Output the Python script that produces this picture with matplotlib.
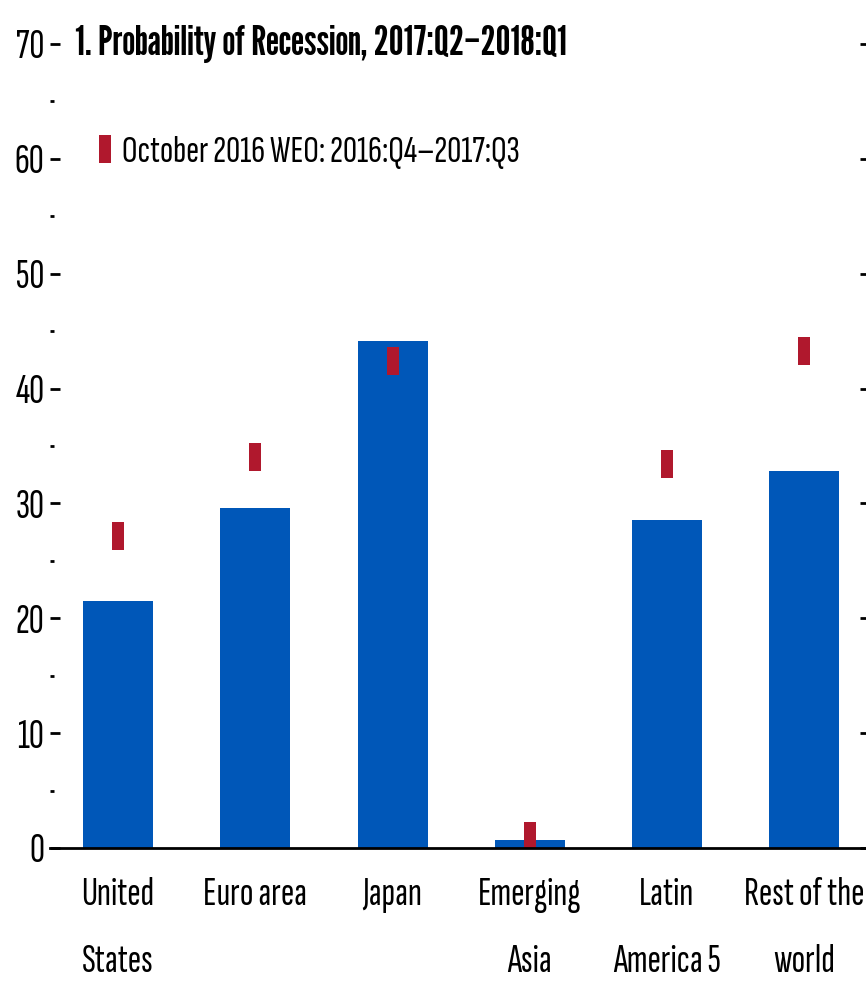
import matplotlib
matplotlib.use("Agg")
import matplotlib.pyplot as plt
from matplotlib.ticker import MultipleLocator

# data
regions = ["United\nStates", "Euro area", "Japan", "Emerging\nAsia", "Latin\nAmerica 5", "Rest of the\nworld"]
prob_now = [21.5, 29.6, 44.1, 0.7, 28.6, 32.8]
prob_oct2016 = [27.2, 34.0, 42.4, 1.05, 33.4, 43.3]

title = "1. Probability of Recession, 2017:Q2\u20132018:Q1"
legend_label = "October 2016 WEO: 2016:Q4\u20132017:Q3"

BLUE = "#0057b8"
RED = "#b0182d"
REG = "Sofia Sans Extra Condensed"
BOLD = "League Gothic"

plt.rcParams["font.family"] = [REG, "DejaVu Sans"]

fig = plt.figure(figsize=(8.66, 9.89), dpi=100)
ax = fig.add_axes([50 / 866, 141 / 989, 816 / 866, 804 / 989])

x = list(range(len(regions)))
ax.bar(x, prob_now, width=0.51, color=BLUE, zorder=2)

# tall thin rectangle marker
rect = [(-0.46, -1), (0.46, -1), (0.46, 1), (-0.46, 1), (-0.46, -1)]
ax.plot(x, prob_oct2016, linestyle="none", marker=rect, markersize=20,
        markeredgewidth=0, color=RED, zorder=3, label=legend_label)

ax.set_xlim(-0.496, 5.45)
ax.set_ylim(0, 70)

for s in ["left", "right", "top"]:
    ax.spines[s].set_visible(False)
ax.spines["bottom"].set_linewidth(2)
ax.spines["bottom"].set_zorder(4)

ax.yaxis.set_major_locator(MultipleLocator(10))
ax.yaxis.set_minor_locator(MultipleLocator(5))
ax.tick_params(axis="y", which="major", direction="in", length=7.5, width=2,
               labelsize=30, pad=4, left=True, right=False)
ax.tick_params(axis="y", which="minor", direction="in", length=3, width=2,
               left=True, right=False)

# short inward ticks along the right edge
ax2 = ax.twinx()
ax2.set_ylim(ax.get_ylim())
ax2.yaxis.set_major_locator(MultipleLocator(10))
ax2.tick_params(axis="y", direction="in", length=4, width=2, labelright=False)
for s in ax2.spines.values():
    s.set_visible(False)

ax.set_xticks(x)
ax.set_xticklabels(regions, linespacing=2.1)
ax.tick_params(axis="x", length=0, labelsize=29, pad=21)

ax.text(25 / 816, 70, title, transform=ax.get_yaxis_transform(), family=BOLD,
        fontsize=30, va="center", ha="left")

ax.legend(loc="upper left", bbox_to_anchor=(43 / 816, 1 - 91 / 804), frameon=False,
          fontsize=28, handlelength=0.6, handletextpad=0.15, borderaxespad=0,
          borderpad=0, numpoints=1)

fig.savefig("out.png", dpi=100)
